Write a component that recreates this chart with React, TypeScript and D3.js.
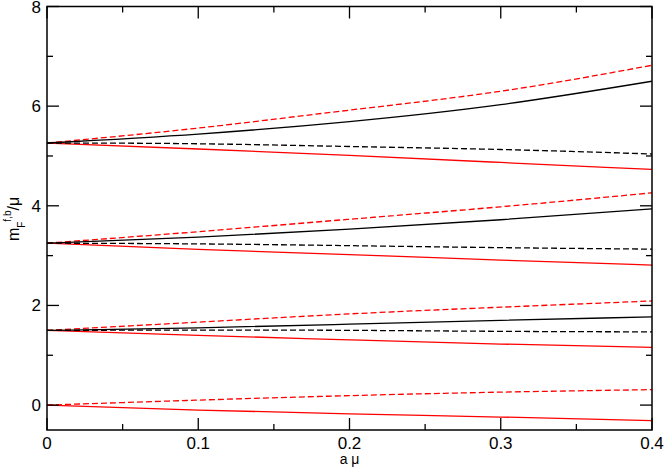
import React from "react";
import * as d3 from "d3";

const xs = [0, 0.1, 0.2, 0.3, 0.4];

// group near 5.26
const g1RedDashed = [5.26, 5.56, 5.92, 6.3, 6.82];
const g1BlackSolid = [5.26, 5.44, 5.69, 6.03, 6.5];
const g1BlackDashed = [5.26, 5.245, 5.19, 5.13, 5.04];
const g1RedSolid = [5.26, 5.14, 5.01, 4.87, 4.73];

// group near 3.25
const g2RedDashed = [3.25, 3.48, 3.73, 3.98, 4.26];
const g2BlackSolid = [3.25, 3.37, 3.53, 3.72, 3.94];
const g2BlackDashed = [3.25, 3.235, 3.2, 3.16, 3.13];
const g2RedSolid = [3.25, 3.125, 3.02, 2.91, 2.81];

// group near 1.5
const g3RedDashed = [1.5, 1.665, 1.83, 1.965, 2.09];
const g3BlackSolid = [1.5, 1.55, 1.625, 1.7, 1.77];
const g3BlackDashed = [1.5, 1.505, 1.5, 1.48, 1.47];
const g3RedSolid = [1.5, 1.4, 1.31, 1.225, 1.16];

// group near 0
const g4RedDashed = [0, 0.1, 0.19, 0.26, 0.31];
const g4RedSolid = [0, -0.1, -0.175, -0.24, -0.31];

const xMajor = [0, 0.1, 0.2, 0.3, 0.4];
const xMajorLabels = ["0", "0.1", "0.2", "0.3", "0.4"];
const xMinor = [0.05, 0.15, 0.25, 0.35];
const yMajor = [0, 2, 4, 6, 8];
const yMajorLabels = ["0", "2", "4", "6", "8"];
const yMinor = [1, 3, 5, 7];

const W = 664;
const H = 469;
const L = 47, R = 652, T = 6.5, B = 430;
const FONT = "'Liberation Sans', Arial, Helvetica, sans-serif";

export default function App() {
  const x = d3.scaleLinear().domain([0, 0.4]).range([L, R]);
  const y = d3.scaleLinear().domain([-0.5, 8]).range([B, T]);
  const line = d3
    .line<number>()
    .x((_, i) => x(xs[i]))
    .y((d) => y(d))
    .curve(d3.curveNatural);

  const red = "#ff0000";
  const black = "#000000";
  const dash = "6,3";
  const series: { data: number[]; color: string; dashed: boolean }[] = [
    { data: g4RedSolid, color: red, dashed: false },
    { data: g4RedDashed, color: red, dashed: true },
    { data: g3RedSolid, color: red, dashed: false },
    { data: g3RedDashed, color: red, dashed: true },
    { data: g2RedSolid, color: red, dashed: false },
    { data: g2RedDashed, color: red, dashed: true },
    { data: g1RedSolid, color: red, dashed: false },
    { data: g1RedDashed, color: red, dashed: true },
    { data: g3BlackSolid, color: black, dashed: false },
    { data: g3BlackDashed, color: black, dashed: true },
    { data: g2BlackSolid, color: black, dashed: false },
    { data: g2BlackDashed, color: black, dashed: true },
    { data: g1BlackSolid, color: black, dashed: false },
    { data: g1BlackDashed, color: black, dashed: true },
  ];

  const maj = 12, mnr = 6;

  return (
    <svg
      width={W}
      height={H}
      style={{ position: "absolute", left: 0, top: 0, background: "#fff" }}
      fontFamily={FONT}
    >
      <rect x={0} y={0} width={W} height={H} fill="#fff" />
      <defs>
        <clipPath id="plot">
          <rect x={L} y={T} width={R - L} height={B - T} />
        </clipPath>
      </defs>
      <g clipPath="url(#plot)">
        {series.map((s, i) => (
          <path
            key={i}
            d={line(s.data) || ""}
            fill="none"
            stroke={s.color}
            strokeWidth={1.3}
            strokeDasharray={s.dashed ? dash : undefined}
          />
        ))}
      </g>
      {/* ticks */}
      <g stroke="#000" strokeWidth={1.3}>
        {xMajor.map((v, i) => (
          <g key={"xM" + i}>
            <line x1={x(v)} x2={x(v)} y1={B} y2={B - maj} />
            <line x1={x(v)} x2={x(v)} y1={T} y2={T + maj} />
          </g>
        ))}
        {xMinor.map((v, i) => (
          <g key={"xm" + i}>
            <line x1={x(v)} x2={x(v)} y1={B} y2={B - mnr} />
            <line x1={x(v)} x2={x(v)} y1={T} y2={T + mnr} />
          </g>
        ))}
        {yMajor.map((v, i) => (
          <g key={"yM" + i}>
            <line x1={L} x2={L + maj} y1={y(v)} y2={y(v)} />
            <line x1={R} x2={R - maj} y1={y(v)} y2={y(v)} />
          </g>
        ))}
        {yMinor.map((v, i) => (
          <g key={"ym" + i}>
            <line x1={L} x2={L + mnr} y1={y(v)} y2={y(v)} />
            <line x1={R} x2={R - mnr} y1={y(v)} y2={y(v)} />
          </g>
        ))}
      </g>
      <rect
        x={L}
        y={T}
        width={R - L}
        height={B - T}
        fill="none"
        stroke="#000"
        strokeWidth={1.5}
      />
      {/* tick labels */}
      <g fontSize={17} fill="#000">
        {xMajor.map((v, i) => (
          <text key={"xl" + i} x={x(v)} y={B + 19} textAnchor="middle">
            {xMajorLabels[i]}
          </text>
        ))}
        {yMajor.map((v, i) => (
          <text key={"yl" + i} x={L - 6} y={y(v) + 6} textAnchor="end">
            {yMajorLabels[i]}
          </text>
        ))}
      </g>
      {/* axis labels */}
      <text x={(L + R) / 2} y={464} textAnchor="middle" fontSize={14} fill="#000">
        a μ
      </text>
      <text
        transform={`translate(19, 219) rotate(-90)`}
        textAnchor="middle"
        fontSize={16}
        fill="#000"
      >
        <tspan>m</tspan>
        <tspan fontSize={10} dy={6}>F</tspan>
        <tspan fontSize={10} dy={-14}>f,b</tspan>
        <tspan dy={8}>/μ</tspan>
      </text>
    </svg>
  );
}
